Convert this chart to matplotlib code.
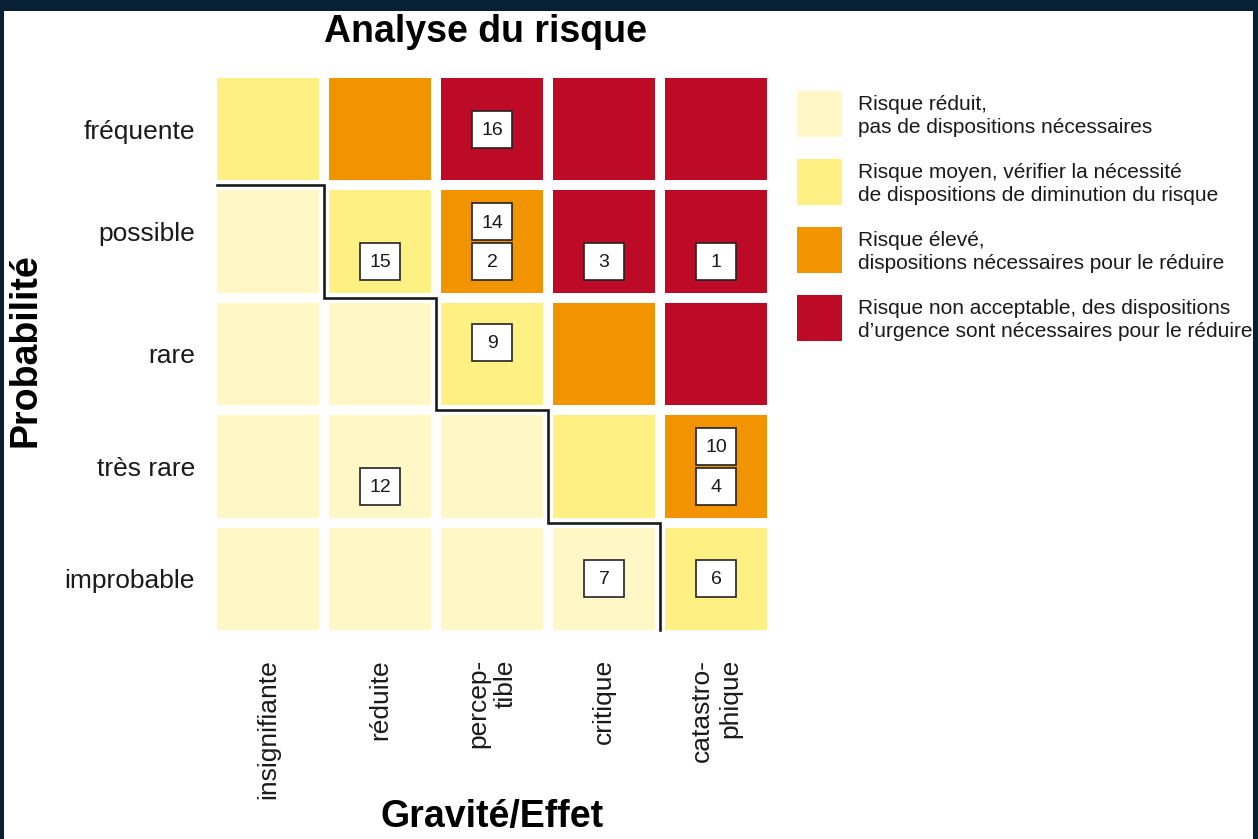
import matplotlib.pyplot as plt
from matplotlib.patches import Rectangle
from matplotlib.transforms import ScaledTranslation

# données
probabilite = ["fréquente", "possible", "rare", "très rare", "improbable"]
gravite = ["insignifiante", "réduite", "percep-\ntible", "critique", "catastro-\nphique"]

# niveau de risque par case (ligne = probabilité, colonne = gravité)
niveaux = [
    [1, 2, 3, 3, 3],
    [0, 1, 2, 3, 3],
    [0, 0, 1, 2, 3],
    [0, 0, 0, 1, 2],
    [0, 0, 0, 0, 1],
]
couleurs = ["#fff8c6", "#fff083", "#f29400", "#bd0a26"]
legende = [
    "Risque réduit,\npas de dispositions nécessaires",
    "Risque moyen, vérifier la nécessité\nde dispositions de diminution du risque",
    "Risque élevé,\ndispositions nécessaires pour le réduire",
    "Risque non acceptable, des dispositions\nd’urgence sont nécessaires pour le réduire",
]

# risques numérotés
numeros = [16, 15, 14, 2, 3, 1, 9, 12, 10, 4, 7, 6]
col_gravite = [2, 1, 2, 2, 3, 4, 2, 1, 4, 4, 3, 4]
lig_proba = [0, 1, 1, 1, 1, 1, 2, 3, 3, 3, 4, 4]
place = ["centre", "bas", "haut", "bas", "bas", "bas", "mi-haut", "bas", "haut", "bas", "centre", "centre"]
decalage = {"haut": -0.175, "mi-haut": -0.1, "centre": 0.0, "bas": 0.18}

plt.rcParams["font.family"] = ["Liberation Sans", "DejaVu Sans"]

W, H = 1258, 839
fig = plt.figure(figsize=(W / 100, H / 100), dpi=100, facecolor="white")
ax = fig.add_axes([217 / W, 1 - 630 / H, 550 / W, 552 / H])
demi = 0.455
ax.set_xlim(-demi, 4 + demi)
ax.set_ylim(4 + demi, -demi)

for r in range(5):
    for c in range(5):
        ax.add_patch(Rectangle((c - demi, r - demi), 2 * demi, 2 * demi,
                               color=couleurs[niveaux[r][c]], lw=0))

# ligne en escalier: limite de la zone de risque réduit
bord = []
for c in range(5):
    rows = [r for r in range(5) if niveaux[r][c] == 0]
    bord.append(min(rows) - 0.5 if rows else 4 + demi)
px, py = [-demi], [bord[0]]
for c in range(4):
    px += [c + 0.5, c + 0.5]
    py += [bord[c], bord[c + 1]]
ax.plot(px, py, color="#1a1a1a", lw=1.9, solid_joinstyle="miter", clip_on=False)

# étiquettes numérotées
bw, bh = 0.357, 0.33
for n, c, r, p in zip(numeros, col_gravite, lig_proba, place):
    y = r + decalage[p]
    ax.add_patch(Rectangle((c - bw / 2, y - bh / 2), bw, bh,
                           facecolor="white", edgecolor="#222222", lw=1.2))
    ax.text(c, y + 0.01, str(n), ha="center", va="center", fontsize=14, color="#1a1a1a")

ax.set_xticks(range(5))
ax.set_xticklabels(gravite, rotation=90, va="top", ha="center",
                   multialignment="right", fontsize=19, color="#1a1a1a")
ax.set_yticks(range(5))
ax.set_yticklabels(probabilite, fontsize=19, color="#1a1a1a")
ax.tick_params(axis="x", length=0, pad=21)
ax.tick_params(axis="y", length=0, pad=16)
for s in ax.spines.values():
    s.set_visible(False)

# "possible" est un peu plus haut que le centre de sa ligne
lab = ax.get_yticklabels()[1]
lab.set_transform(lab.get_transform() + ScaledTranslation(0, 10 / 100, fig.dpi_scale_trans))

fig.text(486 / W, 1 - 42 / H, "Analyse du risque", ha="center", va="baseline",
         fontsize=27, fontweight="bold")
fig.text(492 / W, 1 - 827 / H, "Gravité/Effet", ha="center", va="baseline",
         fontsize=27, fontweight="bold")
fig.text(26 / W, 1 - 350 / H, "Probabilité", rotation=90, ha="center", va="center",
         fontsize=27, fontweight="bold")

# légende
for i, (lab, col) in enumerate(zip(legende, couleurs)):
    cy = 114 + 68 * i
    fig.add_artist(Rectangle((797 / W, 1 - (cy + 23) / H), 45 / W, 46 / H,
                             transform=fig.transFigure, color=col, lw=0))
    fig.text(858 / W, 1 - (cy + 2) / H, lab, ha="left", va="center", fontsize=15,
             linespacing=1.32, color="#1a1a1a")

# cadre sombre
sombre = "#072034"
for x0, y0, w, h in [(0, H - 11, W, 11), (0, 0, 4, H), (1253, 0, W - 1253, H)]:
    fig.add_artist(Rectangle((x0 / W, y0 / H), w / W, h / H, transform=fig.transFigure,
                             color=sombre, lw=0, zorder=100))

fig.savefig("out.png", dpi=100)
